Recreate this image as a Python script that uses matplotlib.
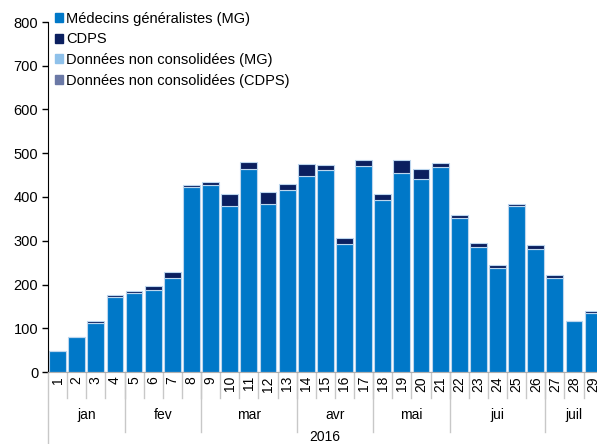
#! /usr/bin/env python3

"Weekly counts 2016: Medecins generalistes (MG) vs CDPS, stacked bars"

import numpy as np
import matplotlib
matplotlib.use("Agg")
import matplotlib.pyplot as plt
from matplotlib.patches import Patch
from matplotlib.transforms import blended_transform_factory

plt.rcParams['font.family'] = ['Liberation Sans', 'DejaVu Sans']

weeks = list(range(1, 30))
mg = [49, 80, 113, 171, 180, 187, 215, 423, 427, 380, 464, 384, 415, 449, 462,
      293, 471, 392, 454, 441, 469, 353, 286, 238, 379, 281, 216, 116, 135]
cdps = [0, 0, 4, 4, 5, 10, 14, 4, 7, 27, 15, 27, 15, 26, 10,
        13, 14, 15, 31, 23, 8, 5, 8, 7, 5, 9, 5, 0, 4]
months = ["jan", "fev", "mar", "avr", "mai", "jui", "juil"]
weeks_per_month = [4, 4, 5, 4, 4, 5, 3]
year = "2016"

MG_COL = "#0078c8"
CDPS_COL = "#0b1f5f"
EDGE = "#bcd6ee"

fig = plt.figure(figsize=(5.97, 4.44), dpi=100)
ax = fig.add_axes([48 / 597, 72 / 444, 1 - 48 / 597, 350 / 444])

x = np.arange(len(weeks))
ax.bar(x, mg, width=0.88, color=MG_COL, edgecolor=EDGE, linewidth=0.8)
ax.bar(x, cdps, bottom=mg, width=0.88, color=CDPS_COL, edgecolor=EDGE, linewidth=0.8)

ax.set_xlim(-0.5, 28.2)
ax.set_ylim(0, 800)
ax.set_yticks(range(0, 900, 100))
ax.tick_params(axis='y', labelsize=10.5, length=4, width=1, pad=3)
for side in ["top", "right"]:
    ax.spines[side].set_visible(False)
ax.spines["bottom"].set_color("#b0b0b0")
ax.spines["left"].set_color("black")
ax.set_xticks([])

# category axis below the bars
tr = blended_transform_factory(ax.transData, ax.transAxes)
px = 1 / 350.0  # one pixel in axes height
for i, w in enumerate(weeks):
    ax.text(i, -4 * px, str(w), transform=tr, rotation=90, ha='center', va='top',
            fontsize=10)
    ax.plot([i + 0.5, i + 0.5], [0, -26 * px], transform=tr, color="#c8c8c8",
            lw=1, clip_on=False)

start = 0
for m, n in zip(months, weeks_per_month):
    ax.text(start + (n - 1) / 2, -43 * px, m, transform=tr, ha='center', va='center',
            fontsize=10)
    end = start + n
    if end < len(weeks):
        ax.plot([end - 0.5, end - 0.5], [0, -60 * px], transform=tr, color="#c8c8c8",
                lw=1, clip_on=False)
    start = end
ax.plot([-0.5, -0.5], [0, -80 * px], transform=tr, color="#c8c8c8", lw=1, clip_on=False)
fig.text(325 / 597, 1 - 437 / 444, year, ha='center', va='center', fontsize=10)

handles = [Patch(color=MG_COL), Patch(color=CDPS_COL),
           Patch(color="#8fc1ea"), Patch(color="#6b79a6")]
labels = ["Médecins généralistes (MG)", "CDPS",
          "Données non consolidées (MG)", "Données non consolidées (CDPS)"]
ax.legend(handles, labels, loc='upper left', bbox_to_anchor=(0.012, 1.029), frameon=False,
          fontsize=10.5, handlelength=0.55, handleheight=0.55, handletextpad=0.25,
          labelspacing=0.45, borderaxespad=0, borderpad=0)

fig.savefig("out.png", dpi=100)
